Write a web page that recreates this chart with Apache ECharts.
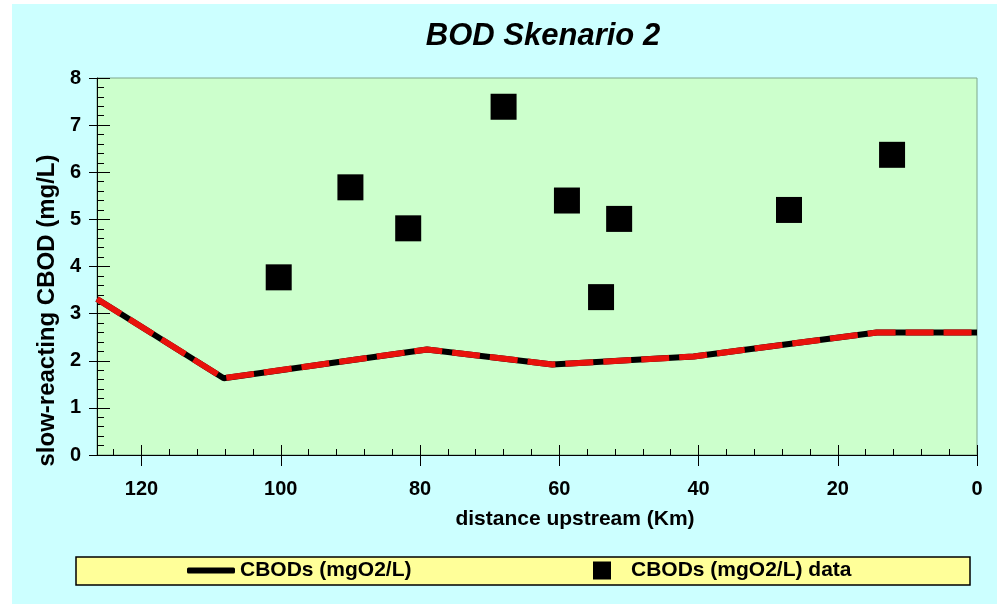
<!DOCTYPE html>
<html>
<head>
<meta charset="utf-8">
<script src="https://cdn.jsdelivr.net/npm/echarts@6/dist/echarts.min.js"></script>
<style>
  html, body { margin: 0; padding: 0; background: #ffffff; }
  #chart { position: absolute; left: 12px; top: 4px; width: 985px; height: 600px; }
</style>
</head>
<body>
<div id="chart"></div>
<script>
// ---- data ----
const xMajorTicks = [0, 20, 40, 60, 80, 100, 120];
const xMinorTicks = [4, 8, 12, 16, 24, 28, 32, 36, 44, 48, 52, 56, 64, 68, 72, 76, 84, 88, 92, 96, 104, 108, 112, 116, 124];
const xMin = 0;
const xMax = 126.4;
const yMin = 0;
const yMax = 8;

const modelDistance = [126.4, 108.2, 79.0, 61.0, 40.7, 14.4, 0];
const modelCBOD     = [3.31, 1.63, 2.24, 1.92, 2.09, 2.60, 2.60];

const obsDistance = [100.3, 90.0, 81.7, 68.0, 58.9, 54.0, 51.4, 27.0, 12.2];
const obsCBOD     = [3.77, 5.68, 4.81, 7.39, 5.40, 3.35, 5.01, 5.20, 6.37];

const lineName = 'CBODs (mgO2/L)';
const dataName = 'CBODs (mgO2/L) data';
const titleText = 'BOD Skenario 2';
const xName = 'distance upstream (Km)';
const yName = 'slow-reacting CBOD (mg/L)';

// ---- build ----
const modelPts = modelDistance.map((d, i) => [d, modelCBOD[i]]);
const obsPts = obsDistance.map((d, i) => [d, obsCBOD[i]]);

const FONT = '"Liberation Sans", Arial, sans-serif';
const chart = echarts.init(document.getElementById('chart'));

const gridRect = { left: 85, top: 74, right: 20, bottom: 149 };

const baseX = {
  type: 'value', gridIndex: 0, position: 'bottom', inverse: true,
  min: xMin, max: xMax, splitLine: { show: false }
};
const baseY = {
  type: 'value', gridIndex: 0, position: 'left',
  min: yMin, max: yMax, interval: 1, splitLine: { show: false }
};

chart.setOption({
  backgroundColor: '#CCFFFF',
  animation: false,
  title: {
    text: titleText,
    left: 531, top: 17, textAlign: 'center', padding: 0,
    textStyle: { fontFamily: FONT, fontSize: 31, fontWeight: 'bold', fontStyle: 'italic', color: '#000' }
  },
  graphic: [{
    type: 'rect', z: 1,
    shape: { x: 64, y: 553, width: 894, height: 28 },
    style: { fill: '#FFFF99', stroke: '#000', lineWidth: 1.5 }
  }],
  legend: [{
    data: [{ name: lineName, icon: 'roundRect' }],
    left: 175, top: 556, padding: 0, z: 5,
    itemWidth: 48, itemHeight: 6,
    textStyle: { fontFamily: FONT, fontSize: 21, fontWeight: 'bold', color: '#000' }
  }, {
    data: [{ name: dataName, icon: 'rect' }],
    left: 581, top: 556, padding: 0, z: 5,
    itemWidth: 18, itemHeight: 18,
    textStyle: { fontFamily: FONT, fontSize: 21, fontWeight: 'bold', color: '#000', padding: [0, 0, 0, 15] }
  }],
  grid: [
    Object.assign({ show: true, backgroundColor: '#CCFFCC', borderColor: '#7fa68c', borderWidth: 1 }, gridRect),
    Object.assign({ show: false }, gridRect)
  ],
  xAxis: [
    Object.assign({}, baseX, {
      name: xName, nameLocation: 'middle', nameGap: 54,
      nameTextStyle: { fontFamily: FONT, fontSize: 21, fontWeight: 'bold', color: '#000', padding: [0, 0, 0, 76] },
      axisLine: { show: true, onZero: false, lineStyle: { color: '#000', width: 1 } },
      axisTick: { show: true, customValues: xMajorTicks, length: 11, lineStyle: { color: '#000' } },
      axisLabel: { customValues: xMajorTicks, margin: 24, fontFamily: FONT, fontSize: 20, fontWeight: 'bold', color: '#000' }
    }),
    Object.assign({}, baseX, {
      axisLine: { show: false, onZero: false }, axisLabel: { show: false },
      axisTick: { show: true, inside: true, customValues: xMajorTicks, length: 10, lineStyle: { color: '#000' } }
    }),
    Object.assign({}, baseX, {
      axisLine: { show: false, onZero: false }, axisLabel: { show: false },
      axisTick: { show: true, inside: true, customValues: xMinorTicks, length: 6, lineStyle: { color: '#000' } }
    }),
    Object.assign({}, baseX, {
      gridIndex: 1, show: false, axisLine: { show: false, onZero: false }
    })
  ],
  yAxis: [
    Object.assign({}, baseY, {
      name: yName, nameLocation: 'middle', nameGap: 37,
      nameTextStyle: { fontFamily: FONT, fontSize: 24, fontWeight: 'bold', color: '#000', padding: [0, 88, 0, 0] },
      axisLine: { show: true, onZero: false, lineStyle: { color: '#000', width: 1 } },
      axisTick: { show: true, length: 8, lineStyle: { color: '#000' } },
      axisLabel: { margin: 16, fontFamily: FONT, fontSize: 20, fontWeight: 'bold', color: '#000' }
    }),
    Object.assign({}, baseY, {
      gridIndex: 1,
      axisLine: { show: false, onZero: false }, axisLabel: { show: false },
      axisTick: { show: true, inside: true, length: 13, lineStyle: { color: '#000' } },
      minorTick: { show: true, splitNumber: 5, length: 7, lineStyle: { color: '#000' } }
    })
  ],
  series: [{
    name: lineName, type: 'line', xAxisIndex: 0, yAxisIndex: 0,
    data: modelPts, symbol: 'none', z: 2,
    itemStyle: { color: '#000' },
    lineStyle: { color: '#000', width: 6 }
  }, {
    name: 'model red', type: 'line', xAxisIndex: 0, yAxisIndex: 0,
    data: modelPts, symbol: 'none', z: 3,
    itemStyle: { color: '#e8120c' },
    lineStyle: { color: '#e8120c', width: 6, type: [28, 10] }
  }, {
    name: dataName, type: 'scatter', xAxisIndex: 0, yAxisIndex: 0,
    data: obsPts, symbol: 'rect', symbolSize: 26, z: 4,
    itemStyle: { color: '#000', opacity: 1 }
  }]
});
</script>
</body>
</html>
